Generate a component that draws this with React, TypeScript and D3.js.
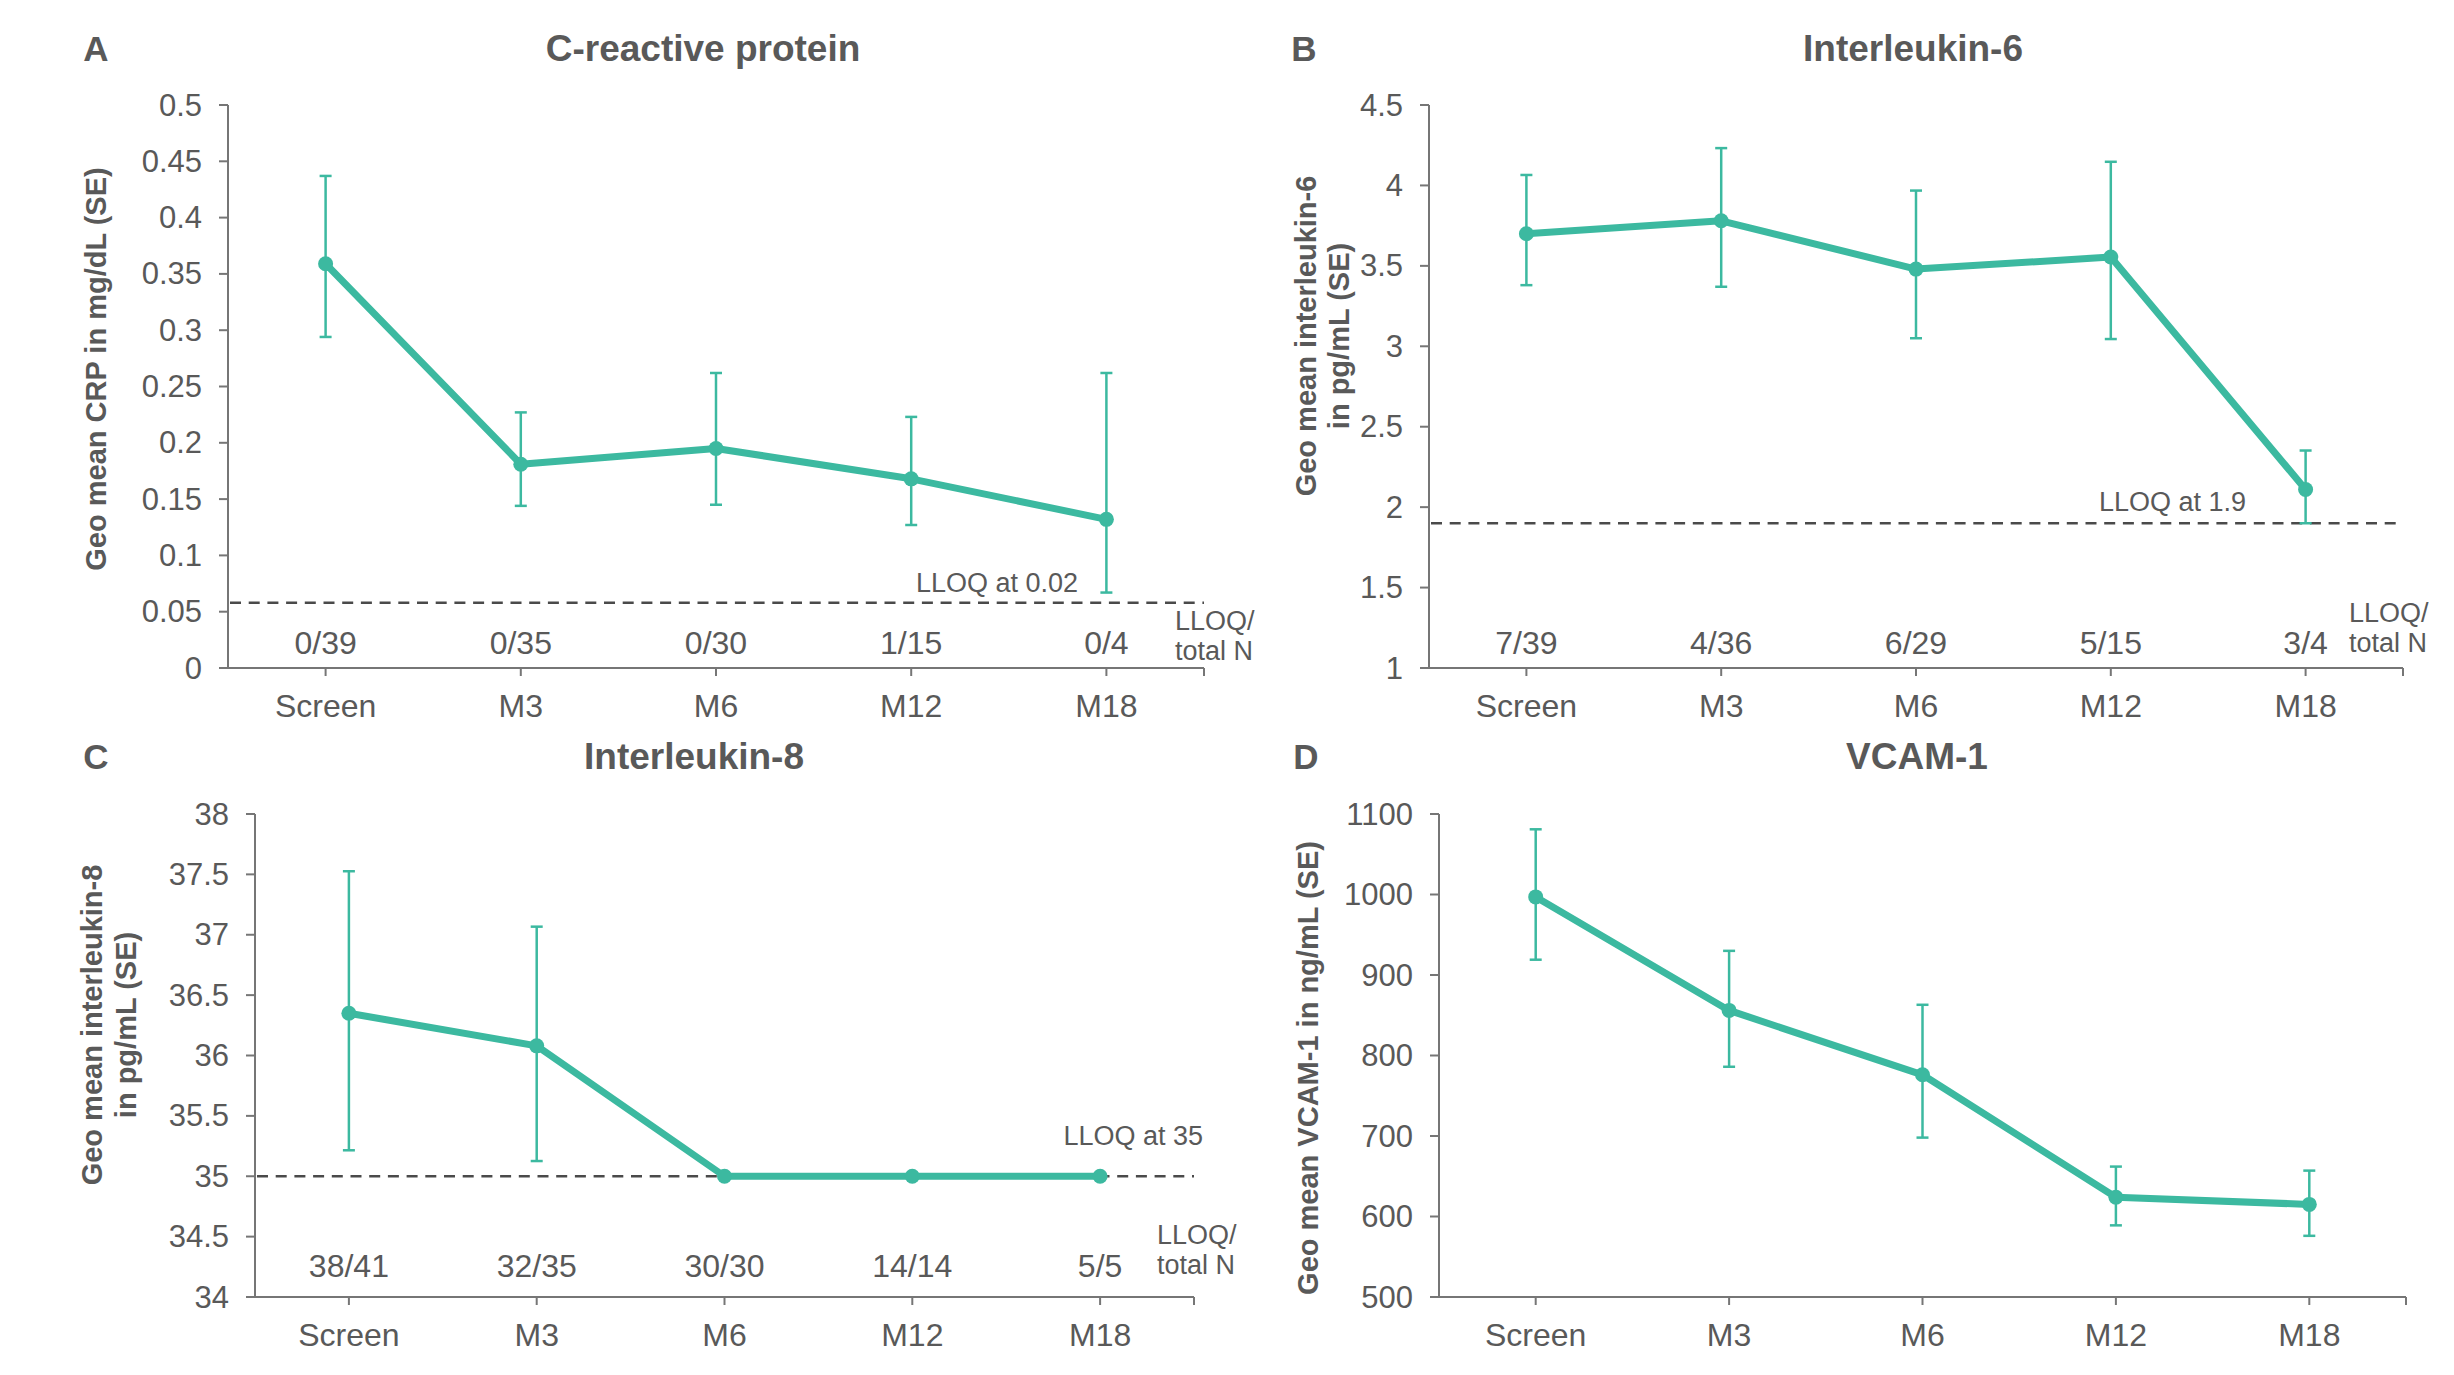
import React from "react";
import * as d3 from "d3";

// ---------- DATA ----------
const categories = ["Screen", "M3", "M6", "M12", "M18"];

const crpMean = [0.359, 0.181, 0.195, 0.168, 0.132];
const crpLow = [0.294, 0.144, 0.145, 0.127, 0.067];
const crpHigh = [0.437, 0.227, 0.262, 0.223, 0.262];
const crpCounts = ["0/39", "0/35", "0/30", "1/15", "0/4"];
const crpTicks = [0, 0.05, 0.1, 0.15, 0.2, 0.25, 0.3, 0.35, 0.4, 0.45, 0.5];
const crpLloq = 0.058;

const il6Mean = [3.70, 3.78, 3.48, 3.555, 2.11];
const il6Low = [3.38, 3.37, 3.05, 3.045, 1.90];
const il6High = [4.065, 4.232, 3.968, 4.147, 2.352];
const il6Counts = ["7/39", "4/36", "6/29", "5/15", "3/4"];
const il6Ticks = [1, 1.5, 2, 2.5, 3, 3.5, 4, 4.5];
const il6Lloq = 1.9;

const il8Mean = [36.35, 36.08, 35.0, 35.0, 35.0];
const il8Low = [35.215, 35.126, null, null, null];
const il8High = [37.526, 37.067, null, null, null];
const il8Counts = ["38/41", "32/35", "30/30", "14/14", "5/5"];
const il8Ticks = [34, 34.5, 35, 35.5, 36, 36.5, 37, 37.5, 38];
const il8Lloq = 35;

const vcamMean = [997, 856, 776, 624, 615];
const vcamLow = [919, 786, 698, 589, 576];
const vcamHigh = [1081, 930, 863, 662, 657];
const vcamTicks = [500, 600, 700, 800, 900, 1000, 1100];

// ---------- STYLE ----------
const TEAL = "#3cb9a0";
const TEXT = "#595959";
const AXIS = "#767676";
const FONT = "'Liberation Sans', Arial, sans-serif";

type PanelProps = {
  letter: string;
  title: string;
  yLabel: string[];
  mean: number[];
  low: (number | null)[];
  high: (number | null)[];
  counts?: string[];
  ticks: number[];
  lloq?: number;
  lloqText?: string;
  layout: {
    x0: number; x1: number; yTop: number; yBottom: number;
    titleX: number; titleY: number; letterX: number;
    yLabelX: number[]; yLabelY: number;
    lloqTextX?: number; lloqTextY?: number;
    legendX?: number; legendY?: number;
    countsY?: number; catY: number;
  };
};

function Panel(p: PanelProps) {
  const L = p.layout;
  const x = d3.scaleBand<string>().domain(categories).range([L.x0, L.x1]).padding(0);
  const y = d3.scaleLinear().domain([p.ticks[0], p.ticks[p.ticks.length - 1]]).range([L.yBottom, L.yTop]);
  const cx = (c: string) => (x(c) as number) + x.bandwidth() / 2;
  const line = d3.line<number>().x((_, i) => cx(categories[i])).y((v) => y(v));
  const fmt = (v: number) => String(+v.toFixed(2));
  return (
    <g>
      <text x={L.letterX} y={L.titleY} fontFamily={FONT} fontWeight="bold" fontSize={35} fill={TEXT} textAnchor="middle">{p.letter}</text>
      <text x={L.titleX} y={L.titleY} fontFamily={FONT} fontWeight="bold" fontSize={37} fill={TEXT} textAnchor="middle">{p.title}</text>
      {p.yLabel.map((t, i) => (
        <text key={i} transform={`translate(${L.yLabelX[i]},${L.yLabelY}) rotate(-90)`} fontFamily={FONT} fontWeight="bold" fontSize={29} fill={TEXT} textAnchor="middle" dominantBaseline="central">{t}</text>
      ))}
      {/* y axis */}
      <line x1={L.x0} x2={L.x0} y1={L.yTop} y2={L.yBottom} stroke={AXIS} strokeWidth={2} />
      {p.ticks.map((t) => (
        <g key={t}>
          <line x1={L.x0 - 9} x2={L.x0} y1={y(t)} y2={y(t)} stroke={AXIS} strokeWidth={2} />
          <text x={L.x0 - 26} y={y(t)} fontFamily={FONT} fontSize={31} fill={TEXT} textAnchor="end" dominantBaseline="central">{fmt(t)}</text>
        </g>
      ))}
      {/* x axis */}
      <line x1={L.x0 - 9} x2={L.x1} y1={L.yBottom} y2={L.yBottom} stroke={AXIS} strokeWidth={2} />
      {categories.map((c) => (
        <g key={c}>
          <line x1={cx(c)} x2={cx(c)} y1={L.yBottom} y2={L.yBottom + 8} stroke={AXIS} strokeWidth={2} />
          <text x={cx(c)} y={L.catY} fontFamily={FONT} fontSize={32} fill={TEXT} textAnchor="middle" dominantBaseline="central">{c}</text>
        </g>
      ))}
      <line x1={L.x1} x2={L.x1} y1={L.yBottom} y2={L.yBottom + 8} stroke={AXIS} strokeWidth={2} />
      {p.counts && p.counts.map((n, i) => (
        <text key={i} x={cx(categories[i])} y={L.countsY} fontFamily={FONT} fontSize={32} fill={TEXT} textAnchor="middle" dominantBaseline="central">{n}</text>
      ))}
      {p.counts && (
        <g fontFamily={FONT} fontSize={27} fill={TEXT}>
          <text x={L.legendX} y={L.legendY} dominantBaseline="central">LLOQ/</text>
          <text x={L.legendX} y={(L.legendY as number) + 30} dominantBaseline="central">total N</text>
        </g>
      )}
      {p.lloq !== undefined && (
        <g>
          <line x1={L.x0 + 2} x2={L.x1} y1={y(p.lloq)} y2={y(p.lloq)} stroke="#4a4a4a" strokeWidth={2.6} strokeDasharray="11,7.7" />
          <text x={L.lloqTextX} y={L.lloqTextY} fontFamily={FONT} fontSize={27} fill={TEXT} textAnchor="end" dominantBaseline="central">{p.lloqText}</text>
        </g>
      )}
      {/* error bars */}
      {categories.map((c, i) => {
        const lo = p.low[i], hi = p.high[i];
        if (lo === null || hi === null) return null;
        const xc = cx(c);
        return (
          <g key={c} stroke={TEAL} strokeWidth={2.5}>
            <line x1={xc} x2={xc} y1={y(hi)} y2={y(lo)} />
            <line x1={xc - 6} x2={xc + 6} y1={y(hi)} y2={y(hi)} />
            <line x1={xc - 6} x2={xc + 6} y1={y(lo)} y2={y(lo)} />
          </g>
        );
      })}
      <path d={line(p.mean) as string} fill="none" stroke={TEAL} strokeWidth={7} strokeLinejoin="round" />
      {p.mean.map((v, i) => (
        <circle key={i} cx={cx(categories[i])} cy={y(v)} r={7.5} fill={TEAL} />
      ))}
    </g>
  );
}

export default function App() {
  return (
    <svg width={2454} height={1375} style={{ position: "absolute", left: 0, top: 0, background: "#fff" }}>
      <rect x={0} y={0} width={2454} height={1375} fill="#fff" />
      <Panel
        letter="A" title="C-reactive protein" yLabel={["Geo mean CRP in mg/dL (SE)"]}
        mean={crpMean} low={crpLow} high={crpHigh} counts={crpCounts} ticks={crpTicks}
        lloq={crpLloq} lloqText="LLOQ at 0.02"
        layout={{ x0: 228, x1: 1204, yTop: 105, yBottom: 668, titleX: 703, titleY: 61, letterX: 96,
          yLabelX: [96], yLabelY: 369, lloqTextX: 1078, lloqTextY: 583, legendX: 1175, legendY: 621, countsY: 643, catY: 706 }}
      />
      <Panel
        letter="B" title="Interleukin-6" yLabel={["Geo mean interleukin-6", "in pg/mL (SE)"]}
        mean={il6Mean} low={il6Low} high={il6High} counts={il6Counts} ticks={il6Ticks}
        lloq={il6Lloq} lloqText="LLOQ at 1.9"
        layout={{ x0: 1429, x1: 2403, yTop: 105, yBottom: 668, titleX: 1913, titleY: 61, letterX: 1304,
          yLabelX: [1306, 1339], yLabelY: 336, lloqTextX: 2246, lloqTextY: 502, legendX: 2349, legendY: 613, countsY: 643, catY: 706 }}
      />
      <Panel
        letter="C" title="Interleukin-8" yLabel={["Geo mean interleukin-8", "in pg/mL (SE)"]}
        mean={il8Mean} low={il8Low} high={il8High} counts={il8Counts} ticks={il8Ticks}
        lloq={il8Lloq} lloqText="LLOQ at 35"
        layout={{ x0: 255, x1: 1194, yTop: 814, yBottom: 1297, titleX: 694, titleY: 769, letterX: 96,
          yLabelX: [92, 126], yLabelY: 1025, lloqTextX: 1203, lloqTextY: 1136, legendX: 1157, legendY: 1235, countsY: 1266, catY: 1335 }}
      />
      <Panel
        letter="D" title="VCAM-1" yLabel={["Geo mean VCAM-1 in ng/mL (SE)"]}
        mean={vcamMean} low={vcamLow} high={vcamHigh} ticks={vcamTicks}
        layout={{ x0: 1439, x1: 2406, yTop: 814, yBottom: 1297, titleX: 1917, titleY: 769, letterX: 1306,
          yLabelX: [1308], yLabelY: 1068, catY: 1335 }}
      />
    </svg>
  );
}
